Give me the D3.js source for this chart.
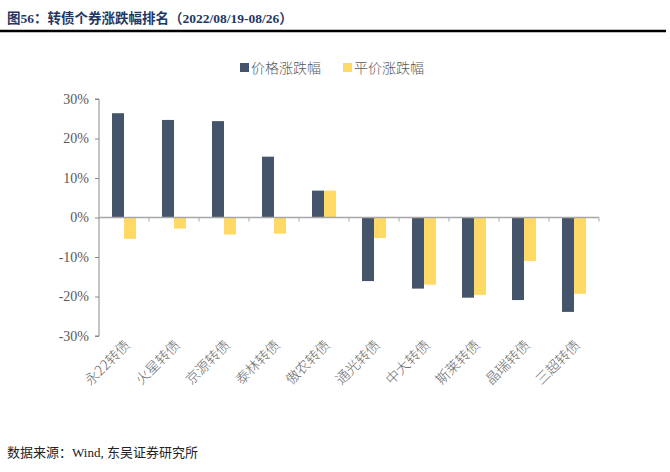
<!DOCTYPE html>
<html><head><meta charset="utf-8">
<script src="https://cdn.jsdelivr.net/npm/d3@7/dist/d3.min.js"></script>
<style>body{margin:0;background:#fff;}svg{display:block;}</style>
</head><body>
<script>
const categories = ["永22转债","火星转债","京源转债","泰林转债","傲农转债","通光转债","中大转债","斯莱转债","晶瑞转债","三超转债"];
const priceChange = [26.4, 24.7, 24.4, 15.4, 6.8, -16.1, -18.0, -20.3, -20.9, -23.9];
const parityChange = [-5.4, -2.8, -4.3, -4.1, 6.8, -5.2, -17.0, -19.6, -11.0, -19.3];
const yTicks = [-30, -20, -10, 0, 10, 20, 30];
const seriesNames = ["价格涨跌幅", "平价涨跌幅"];
const colors = ["#44546a", "#ffd966"];

const W = 670, H = 472;
const svg = d3.select("body").append("svg").attr("width", W).attr("height", H);
const latinFont = "'Liberation Serif', serif";
const cjkFont = "'Noto Sans CJK SC', sans-serif";

// write text with ASCII runs in serif and CJK runs in CJK font
function mixedText(sel, str) {
  const runs = str.match(/[\x00-\x7f]+|[^\x00-\x7f]+/g);
  runs.forEach(r => {
    sel.append("tspan").attr("font-family", /^[\x00-\x7f]/.test(r) ? latinFont : cjkFont).text(r);
  });
  return sel;
}

// title
const title = svg.append("text").attr("x", 7).attr("y", 23)
  .attr("font-weight", "bold").attr("font-size", 13.5).attr("fill", "#1f3864");
mixedText(title, "图56：转债个券涨跌幅排名（2022/08/19-08/26）");
svg.append("line").attr("x1", 0).attr("x2", 666).attr("y1", 31).attr("y2", 31)
  .attr("stroke", "#000").attr("stroke-width", 2.5);

const x0 = d3.scaleBand().domain(categories).range([99, 599]).paddingInner(0).paddingOuter(0);
const inner = d3.scaleBand().domain([0, 1]).range([13, 37]);
const y = d3.scaleLinear().domain([-30, 30]).range([336, 99]);

// y axis
const yAxis = d3.axisLeft(y).tickValues(yTicks).tickSize(4).tickFormat(d => d + "%");
const gy = svg.append("g").attr("transform", "translate(99,0)").call(yAxis);
gy.select(".domain").attr("stroke", "#888").attr("d", "M-4,99H0V336H-4");
gy.selectAll(".tick line").attr("stroke", "#888");
gy.selectAll(".tick text").attr("font-family", latinFont).attr("font-size", 14)
  .attr("fill", "#595959").attr("x", -10);

// bars
const data = categories.map((c, i) => ({c, v: [priceChange[i], parityChange[i]]}));
const g = svg.append("g");
data.forEach(d => {
  d.v.forEach((v, k) => {
    g.append("rect")
      .attr("x", x0(d.c) + inner(k))
      .attr("width", inner.bandwidth())
      .attr("y", y(Math.max(0, v)))
      .attr("height", Math.abs(y(v) - y(0)))
      .attr("fill", colors[k]);
  });
});

// x axis
const xAxis = d3.axisBottom(x0).tickSize(4).tickFormat("");
const gx = svg.append("g").attr("transform", `translate(0,${y(0)})`).call(xAxis);
gx.select(".domain").attr("stroke", "#a6a6a6").attr("stroke-width", 1.5).attr("d", "M99,0H599");
gx.selectAll(".tick").remove();
const bounds = categories.map(c => x0(c)).concat([599]);
gx.selectAll(".btick").data(bounds.slice(1)).enter().append("line")
  .attr("x1", d => d).attr("x2", d => d).attr("y1", 0).attr("y2", 4).attr("stroke", "#a6a6a6");

// x labels
svg.append("g").selectAll("text").data(categories).enter().append("text")
  .attr("transform", d => `translate(${x0(d) + x0.bandwidth() / 2 + 7},${346}) rotate(-45)`)
  .attr("text-anchor", "end")
  .attr("font-family", cjkFont).attr("font-size", 14).attr("font-weight", 300)
  .attr("fill", "#6b6b6b").text(d => d);

// legend
const leg = svg.append("g");
const legX = [240, 343];
seriesNames.forEach((n, k) => {
  leg.append("rect").attr("x", legX[k]).attr("y", 63).attr("width", 9).attr("height", 9).attr("fill", colors[k]);
  leg.append("text").attr("x", legX[k] + 11).attr("y", 73)
    .attr("font-family", cjkFont).attr("font-size", 14).attr("font-weight", 300)
    .attr("fill", "#595959").text(n);
});

// footer
const foot = svg.append("text").attr("x", 7).attr("y", 457)
  .attr("font-size", 13).attr("fill", "#222");
mixedText(foot, "数据来源：Wind, 东吴证券研究所");
</script>
</body></html>
